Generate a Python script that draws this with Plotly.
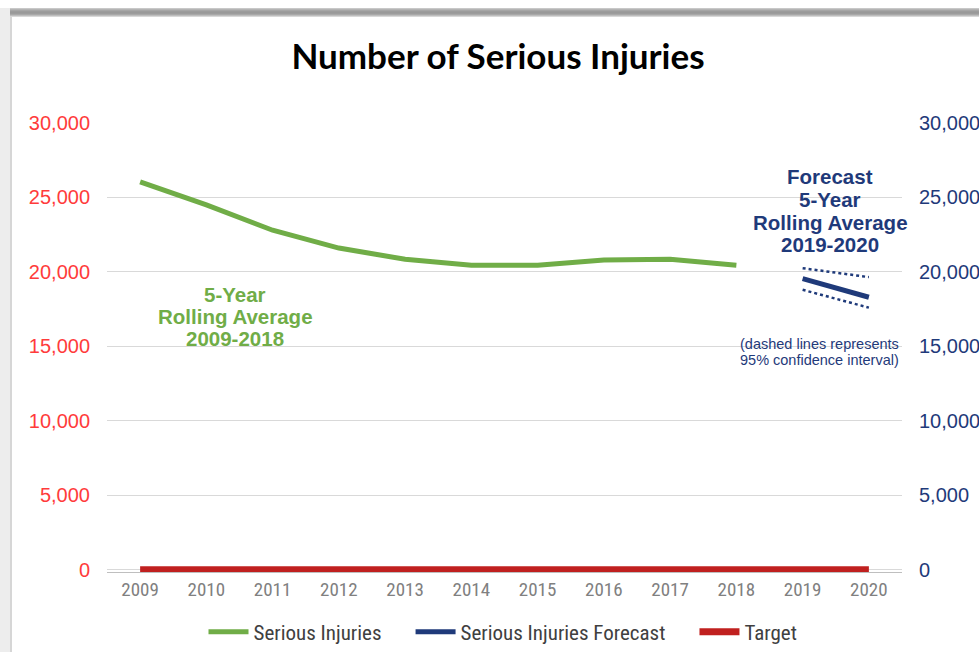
import plotly.graph_objects as go

years = ["2009", "2010", "2011", "2012", "2013", "2014", "2015", "2016", "2017", "2018", "2019", "2020"]
hist_years = years[:10]
serious_injuries = [26050, 24500, 22800, 21600, 20850, 20450, 20450, 20800, 20850, 20450]
fc_years = ["2019", "2020"]
forecast = [19550, 18300]
upper_ci = [20250, 19650]
lower_ci = [18800, 17600]
target = [0] * 12
y_ticks = [0, 5000, 10000, 15000, 20000, 25000, 30000]

W, H = 979, 652
L, R, T, B = 107, 77, 123, 80
PW, PH = W - L - R, H - T - B


def px(x):
    return (x - L) / PW


def py(y):
    return (H - B - y) / PH


GREEN = "#70AD47"
NAVY = "#1F3A7A"
RED = "#C0201F"
NARROW = "Liberation Sans Narrow, Arial Narrow, Roboto Condensed, Liberation Sans, Arial"
ARIAL = "Liberation Sans, Arial"
GAP = "\u00a0" * 5

fig = go.Figure()
fig.add_trace(go.Scatter(x=hist_years, y=serious_injuries, mode="lines", name="Serious Injuries" + GAP,
                         line=dict(color=GREEN, width=5)))
fig.add_trace(go.Scatter(x=fc_years, y=forecast, mode="lines", name="Serious Injuries Forecast" + GAP,
                         line=dict(color=NAVY, width=5), yaxis="y2"))
fig.add_trace(go.Scatter(x=years, y=target, mode="lines", name="Target",
                         line=dict(color=RED, width=7)))
fig.add_trace(go.Scatter(x=fc_years, y=upper_ci, mode="lines", showlegend=False,
                         line=dict(color=NAVY, width=2.5, dash="dot"), yaxis="y2"))
fig.add_trace(go.Scatter(x=fc_years, y=lower_ci, mode="lines", showlegend=False,
                         line=dict(color=NAVY, width=2.5, dash="dot"), yaxis="y2"))

yr = [-150, 30000]
fig.update_layout(
    width=W, height=H,
    margin=dict(l=L, r=R, t=T, b=B, autoexpand=False),
    paper_bgcolor="white", plot_bgcolor="white",
    title=dict(text="<b>Number of Serious Injuries</b>", xref="container", x=498 / W, xanchor="center",
               y=1 - 57 / H, yanchor="middle",
               font=dict(family="Lato, Open Sans, sans-serif", size=35, color="black")),
    xaxis=dict(type="category", categoryorder="array", categoryarray=years, automargin=False,
               range=[-0.5, 11.5], showgrid=False, showline=True, linecolor="#BFBFBF", linewidth=1,
               ticks="", tickfont=dict(family=NARROW, size=19, color="#808080"),
               ticklabelstandoff=0),
    yaxis=dict(range=yr, tickvals=y_ticks, tickformat=",d", showgrid=True, gridcolor="#D9D9D9",
               zeroline=False, showline=False, ticks="", automargin=False,
               tickfont=dict(family=ARIAL, size=20, color="#FF3B3B"),
               ticklabelstandoff=16),
    yaxis2=dict(range=yr, tickvals=y_ticks, tickformat=",d", overlaying="y", side="right",
                showgrid=False, zeroline=False, showline=False, ticks="", automargin=False,
                tickfont=dict(family=ARIAL, size=20, color=NAVY),
                ticklabelstandoff=16),
    legend=dict(orientation="h", x=px(503), xanchor="center", y=py(632), yanchor="middle",
                font=dict(family=NARROW, size=21, color="#404040"), itemwidth=40,
                traceorder="normal"),
    showlegend=True,
)


def add_lines(lines, cx, ys, size, color, bold=True):
    for t, yy in zip(lines, ys):
        fig.add_annotation(xref="paper", yref="paper", x=px(cx), y=py(yy), showarrow=False,
                           text=f"<b>{t}</b>" if bold else t,
                           font=dict(family=ARIAL, size=size, color=color),
                           xanchor="center", yanchor="middle")


add_lines(["5-Year", "Rolling Average", "2009-2018"], 235, [294, 316, 338], 20.5, GREEN)
add_lines(["Forecast", "5-Year", "Rolling Average", "2019-2020"], 830, [176, 199, 222, 245], 20.5, NAVY)
add_lines(["(dashed lines represents", "95% confidence interval)"], 819, [344, 360], 14.5, NAVY, bold=False)

# frame shadow like the screenshot
shapes = [
    dict(type="rect", xref="paper", yref="paper", x0=px(0), x1=px(12), y0=py(H), y1=py(8),
         fillcolor="#EDEDED", line=dict(width=0), layer="below"),
    dict(type="rect", xref="paper", yref="paper", x0=px(10), x1=px(12), y0=py(H), y1=py(12),
         fillcolor="#D6D6D6", line=dict(width=0), layer="below"),
]
grays = ["#C8C8C8", "#B4B4B4", "#A6A6A6", "#9C9C9C", "#999999", "#9C9C9C", "#A8A8A8", "#BDBDBD", "#D8D8D8"]
for i, g in enumerate(grays):
    shapes.append(dict(type="rect", xref="paper", yref="paper", x0=px(10), x1=px(W),
                       y0=py(9 + i), y1=py(8 + i), fillcolor=g, line=dict(width=0), layer="below"))
fig.update_layout(shapes=shapes)

fig.write_html("out.html", config={"displayModeBar": False},
               post_script="document.body.style.margin='0';document.body.style.overflow='hidden';")
